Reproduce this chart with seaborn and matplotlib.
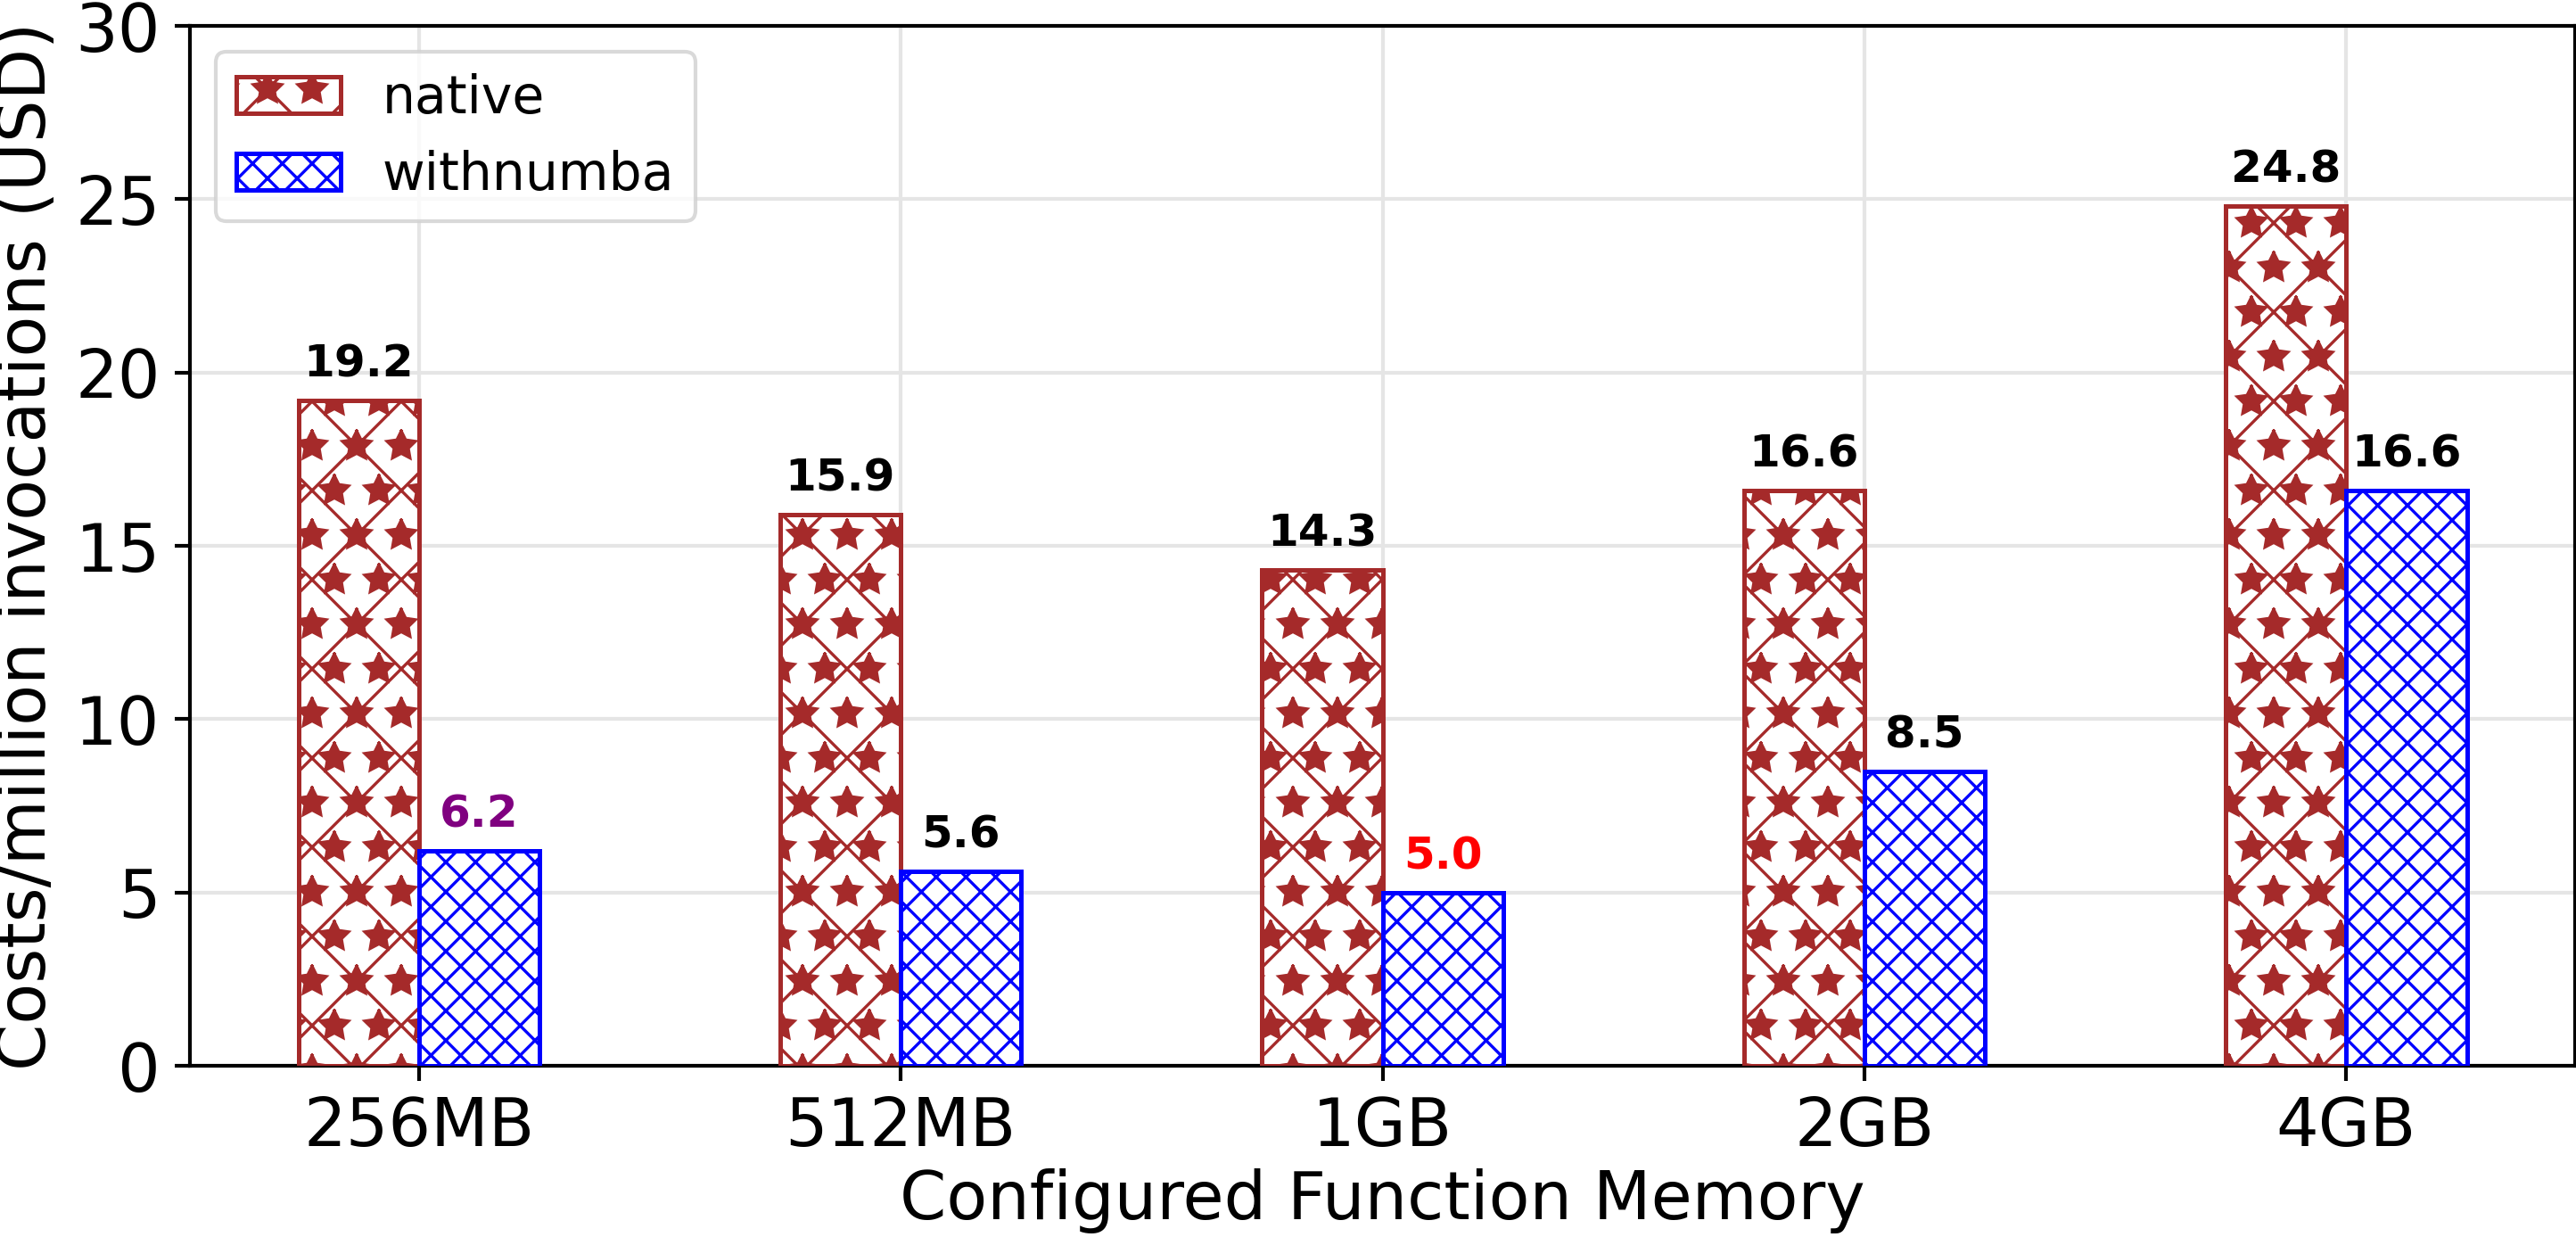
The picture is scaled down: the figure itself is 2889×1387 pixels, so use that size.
import pandas as pd
import matplotlib.pyplot as plt
import seaborn as sns

# data
memory_sizes = ["256MB", "512MB", "1GB", "2GB", "4GB"]
native_cost = [19.2, 15.9, 14.3, 16.6, 24.8]
numba_cost = [6.2, 5.6, 5.0, 8.5, 16.6]
numba_label_colors = ["purple", "black", "red", "black", "black"]

variants = ["native", "withnumba"]
edge_colors = {"native": "#A52A2A", "withnumba": "#0000FF"}
hatches = {"native": "xx**", "withnumba": "xxxxxx"}

df = pd.DataFrame({
    "memory": memory_sizes * 2,
    "cost": native_cost + numba_cost,
    "variant": ["native"] * len(memory_sizes) + ["withnumba"] * len(memory_sizes),
})

sns.set_theme(style="whitegrid", rc={
    "axes.edgecolor": "black",
    "axes.linewidth": 0.5,
    "axes.labelcolor": "black",
    "text.color": "black",
    "grid.color": "#e5e5e5",
    "grid.linewidth": 0.5,
    "hatch.linewidth": 0.4,
    "xtick.bottom": True,
    "ytick.left": True,
    "xtick.major.size": 2,
    "ytick.major.size": 2,
    "xtick.major.width": 0.5,
    "ytick.major.width": 0.5,
    "xtick.major.pad": 2,
    "ytick.major.pad": 2,
    "xtick.color": "black",
    "ytick.color": "black",
    "xtick.labelcolor": "black",
    "ytick.labelcolor": "black",
})
plt.rcParams["font.family"] = ["DejaVu Sans"]

fig = plt.figure(figsize=(2889 / 600, 1387 / 600), dpi=600)
ax = fig.add_axes([0.0737, 0.1384, 0.926, 0.8406])

sns.barplot(data=df, x="memory", y="cost", hue="variant", order=memory_sizes,
            hue_order=variants, width=0.5, palette=["white", "white"],
            saturation=1, legend=False, ax=ax, zorder=3)

for variant, container in zip(variants, ax.containers):
    for bar in container.patches:
        bar.set_facecolor("white")
        bar.set_edgecolor(edge_colors[variant])
        bar.set_hatch(hatches[variant])
        bar.set_linewidth(0.6)

# value labels
for bar, val in zip(ax.containers[0].patches, native_cost):
    ax.annotate(f"{val:.1f}", (bar.get_x() + bar.get_width() / 2, bar.get_height()),
                xytext=(0, 2), textcoords="offset points", ha="center", va="bottom",
                fontsize=6, fontweight="bold", color="black")
for bar, val, col in zip(ax.containers[1].patches, numba_cost, numba_label_colors):
    ax.annotate(f"{val:.1f}", (bar.get_x() + bar.get_width() / 2, bar.get_height()),
                xytext=(0, 2), textcoords="offset points", ha="center", va="bottom",
                fontsize=6, fontweight="bold", color=col)

ax.set_xlim(-0.475, 4.475)
ax.set_ylim(0, 30)
ax.set_yticks([0, 5, 10, 15, 20, 25, 30])
ax.tick_params(axis="both", labelsize=9, colors="black")
ax.set_xlabel("Configured Function Memory", fontsize=9, labelpad=1, color="black")
ax.set_ylabel("Costs/million invocations (USD)", fontsize=9, labelpad=2, color="black")
ax.grid(True, axis="both", zorder=0)
ax.set_axisbelow(True)
for s in ax.spines.values():
    s.set_visible(True)
    s.set_color("black")
    s.set_linewidth(0.5)

leg = ax.legend(ax.containers, variants, loc="upper left", fontsize=7,
                frameon=True, fancybox=True, edgecolor="#d0d0d0",
                borderaxespad=0.5)
leg.get_frame().set_linewidth(0.5)
for t in leg.get_texts():
    t.set_color("black")

fig.savefig("out.png", dpi=600)
